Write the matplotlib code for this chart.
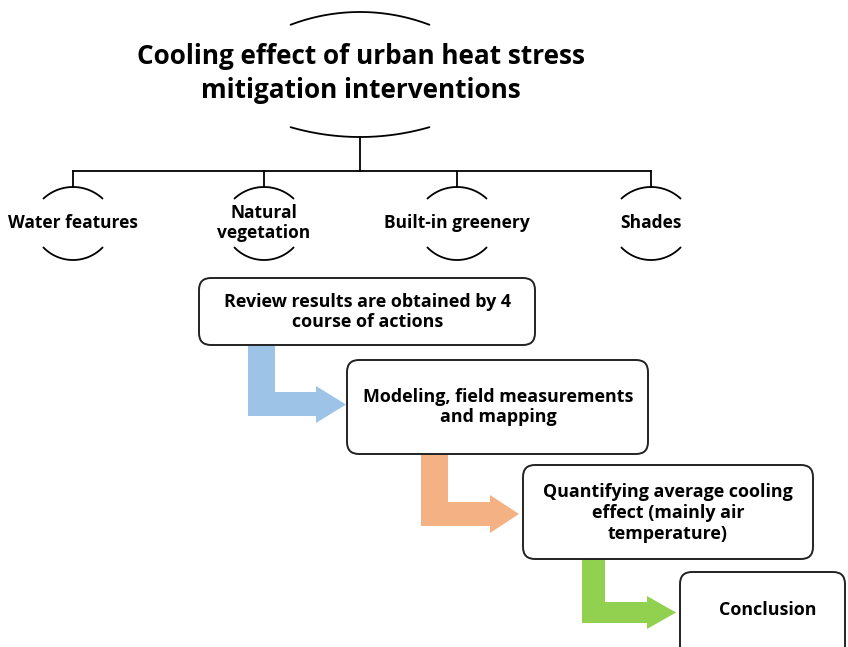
import numpy as np
import matplotlib
matplotlib.use("Agg")
import matplotlib.pyplot as plt
from matplotlib.patches import FancyBboxPatch, Polygon

plt.rcParams['font.family'] = ['Open Sans', 'DejaVu Sans']

# ---- content ----
title_lines = ["Cooling effect of urban heat stress", "mitigation interventions"]
categories = ["Water features", "Natural\nvegetation", "Built-in greenery", "Shades"]
category_x = [73, 264, 457, 651]
steps = ["Review results are obtained by 4\ncourse of actions",
         "Modeling, field measurements\nand mapping",
         "Quantifying average cooling\neffect (mainly air\ntemperature)",
         "Conclusion"]
arrow_colors = ["#9DC3E6", "#F4B183", "#92D050"]

# ---- layout (pixel space) ----
W, H = 848, 647
fig = plt.figure(figsize=(W / 100, H / 100), dpi=100)
ax = fig.add_axes([0, 0, 1, 1])
ax.set_xlim(0, W)
ax.set_ylim(H, 0)
ax.axis('off')

LC = 'black'

def arc(cx, apex, hw, sag, opening_down=True, lw=1.3):
    r = (hw ** 2 + sag ** 2) / (2 * sag)
    xs = np.linspace(cx - hw, cx + hw, 80)
    d = r - np.sqrt(r ** 2 - (xs - cx) ** 2)
    ys = apex + d if opening_down else apex - d
    ax.plot(xs, ys, color=LC, lw=lw, solid_capstyle='butt')

# title
ax.text(361, 56, title_lines[0], ha='center', va='center', fontsize=18.8, fontweight='bold')
ax.text(361, 90, title_lines[1], ha='center', va='center', fontsize=18.8, fontweight='bold')
arc(360, 12, 70, 13, True)
arc(360, 137, 70, 10, False)

# tree
ax.plot([360, 360], [137, 171], color=LC, lw=1.3)
ax.plot([category_x[0], category_x[-1]], [171, 171], color=LC, lw=1.3)
for cx, lab in zip(category_x, categories):
    ax.plot([cx, cx], [171, 187], color=LC, lw=1.3)
    arc(cx, 187, 30, 12, True)
    arc(cx, 260, 30, 13, False)
    ax.text(cx, 223, lab, ha='center', va='center', fontsize=12.5, fontweight='bold',
            linespacing=1.15)

# step boxes
boxes = [(199, 278, 535, 345), (347, 360, 648, 454), (523, 465, 813, 559), (680, 572, 845, 665)]
text_pos = [(368, 312), (498, 407), (668, 513), (768, 610)]
for (x0, y0, x1, y1), (tx, ty), s in zip(boxes, text_pos, steps):
    ax.add_patch(FancyBboxPatch((x0, y0), x1 - x0, y1 - y0,
                                boxstyle="round,pad=0,rounding_size=12",
                                fc='white', ec='#222222', lw=1.4, zorder=2))
    ax.text(tx, ty, s, ha='center', va='center', fontsize=12.9, fontweight='bold',
            linespacing=1.2, zorder=3)

# L-shaped arrows
arrows = [
    dict(x0=248, x1=275, ytop=345, yb0=392, yb1=416, xh=316, xt=346, yh0=386, yh1=423),
    dict(x0=421, x1=448, ytop=454, yb0=502, yb1=526, xh=490, xt=519, yh0=495, yh1=533),
    dict(x0=582, x1=605, ytop=559, yb0=602, yb1=623, xh=647, xt=676, yh0=596, yh1=629),
]
for a, col in zip(arrows, arrow_colors):
    ytip = (a['yh0'] + a['yh1']) / 2
    pts = [(a['x0'], a['ytop']), (a['x1'], a['ytop']), (a['x1'], a['yb0']),
           (a['xh'], a['yb0']), (a['xh'], a['yh0']), (a['xt'], ytip),
           (a['xh'], a['yh1']), (a['xh'], a['yb1']), (a['x0'], a['yb1'])]
    ax.add_patch(Polygon(pts, closed=True, fc=col, ec='none', zorder=1))

fig.savefig("out.png", dpi=100)
